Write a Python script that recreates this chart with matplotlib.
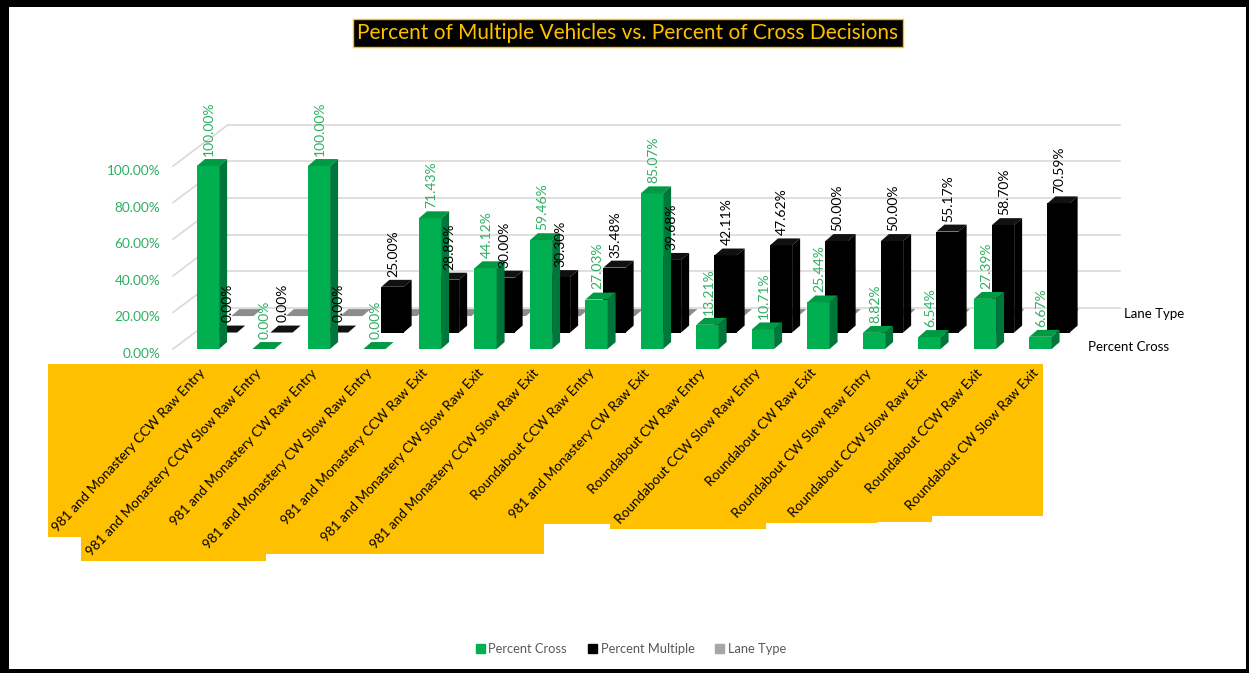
import matplotlib
matplotlib.use('Agg')
import matplotlib.pyplot as plt
from matplotlib.patches import Rectangle, Patch
from matplotlib.transforms import ScaledTranslation

# data
categories = [
    '981 and Monastery CCW Raw Entry',
    '981 and Monastery CCW Slow Raw Entry',
    '981 and Monastery CW Raw Entry',
    '981 and Monastery CW Slow Raw Entry',
    '981 and Monastery CCW Raw Exit',
    '981 and Monastery CW Slow Raw Exit',
    '981 and Monastery CCW Slow Raw Exit',
    'Roundabout CCW Raw Entry',
    '981 and Monastery CW Raw Exit',
    'Roundabout CW Raw Entry',
    'Roundabout CCW Slow Raw Entry',
    'Roundabout CW Raw Exit',
    'Roundabout CW Slow Raw Entry',
    'Roundabout CCW Slow Raw Exit',
    'Roundabout CCW Raw Exit',
    'Roundabout CW Slow Raw Exit',
]
pct_cross = [100.00, 0.00, 100.00, 0.00, 71.43, 44.12, 59.46, 27.03,
             85.07, 13.21, 10.71, 25.44, 8.82, 6.54, 27.39, 6.67]
pct_multiple = [0.00, 0.00, 0.00, 25.00, 28.89, 30.00, 30.30, 35.48,
                39.68, 42.11, 47.62, 50.00, 50.00, 55.17, 58.70, 70.59]
lane_type = [0] * 16
yticks = [0, 20, 40, 60, 80, 100]

GREEN = '#00B050'
GREEN_TOP = '#009A45'
GREEN_SIDE = '#00773A'
GREEN_TXT = '#2EAF62'
GRAY = '#8C8C8C'
GOLD = '#FFC000'

plt.rcParams['font.family'] = ['Lato', 'DejaVu Sans']

W_PX, H_PX = 1249, 673
fig = plt.figure(figsize=(W_PX / 100, H_PX / 100), dpi=100)
fig.patch.set_facecolor('white')

# 1 category = 55.5 px, 1 % = 1.83 px
ax = fig.add_axes([170 / W_PX, (H_PX - 360) / H_PX, 1030 / W_PX, 300 / H_PX])
ax.set_xlim((170 - 208) / 55.5, (1200 - 208) / 55.5)
ax.set_ylim((349 - 360) / 1.83, (349 - 60) / 1.83)
ax.patch.set_visible(False)
for s in ax.spines.values():
    s.set_visible(False)

# 3d look
BW = 0.40            # bar front width
TX, TY = 0.144, 3.8  # bar depth
DX, DY = 0.325, 9.0  # step between series rows
WALL_L, WALL_R, WY = 0.36, 16.43, 22.5  # back wall
x = list(range(len(categories)))
# back row sits a bit squeezed (perspective)
x_back = [0.62 + 0.982 * i for i in x]

# side wall and back wall gridlines
for t in yticks:
    ax.plot([WALL_L - 0.99, WALL_L], [t, t + WY], color='#D9D9D9', lw=1.2,
            zorder=0, clip_on=False)
    ax.plot([WALL_L, WALL_R], [t + WY, t + WY], color='#D9D9D9', lw=1.2,
            zorder=0, clip_on=False)


def draw_bars(xs, vals, base, front, top, side, z):
    ax.bar(xs, vals, bottom=base, width=BW, color=front, zorder=z)
    for xi, v in zip(xs, vals):
        x0 = xi - BW / 2
        t = base + v
        ax.fill([x0, x0 + BW, x0 + BW + TX, x0 + TX],
                [t, t, t + TY, t + TY], color=top, zorder=z, lw=0)
        ax.fill([x0 + BW, x0 + BW, x0 + BW + TX, x0 + BW + TX],
                [base, t, t + TY, base + TY], color=side, zorder=z, lw=0)


draw_bars(x_back, lane_type, 2 * DY, GRAY, GRAY, '#6E6E6E', 1)
draw_bars([i + DX for i in x], pct_multiple, DY, 'black', '#111111', 'black', 2)
draw_bars(x, pct_cross, 0, GREEN, GREEN_TOP, GREEN_SIDE, 3)

# data labels
for i, v in enumerate(pct_cross):
    ax.text(i + 0.02, v + 5.5, f'{v:.2f}%', rotation=90, ha='center',
            va='bottom', color=GREEN_TXT, fontsize=10, zorder=6)
for i, v in enumerate(pct_multiple):
    ax.text(i + DX + 0.02, v + DY + 5.5, f'{v:.2f}%', rotation=90,
            ha='center', va='bottom', color='black', fontsize=10, zorder=6)

# depth axis labels
ax.text(16.5, 2 * DY + 1, 'Lane Type', fontsize=9.5, va='center',
        ha='left', clip_on=False)
ax.text(15.86, 1, 'Percent Cross', fontsize=9.5, va='center', ha='left',
        clip_on=False)

# value axis
ax.set_yticks(yticks)
ax.set_yticklabels([f'{t:.2f}%' for t in yticks], color=GREEN_TXT,
                   fontsize=9.8)
ax.tick_params(axis='y', length=0, pad=7)
off = ScaledTranslation(0, -4 / 100, fig.dpi_scale_trans)
for lbl in ax.get_yticklabels():
    lbl.set_transform(lbl.get_transform() + off)
ax.set_xticks([])

# category labels
cat_texts = []
for i, c in enumerate(categories):
    t = ax.text(i - 0.16, -9.8, c, rotation=47, rotation_mode='anchor',
                ha='right', va='top', fontsize=9.7, color='black',
                clip_on=False, zorder=6)
    cat_texts.append(t)

# title
fig.text(628 / W_PX, 1 - 33 / H_PX,
         'Percent of Multiple Vehicles vs. Percent of Cross Decisions',
         ha='center', va='center', color=GOLD, fontsize=15,
         bbox=dict(boxstyle='square,pad=0.2', facecolor='black',
                   edgecolor=GOLD, linewidth=1))

# legend
handles = [Patch(color=GREEN), Patch(color='black'), Patch(color='#A6A6A6')]
fig.legend(handles, ['Percent Cross', 'Percent Multiple', 'Lane Type'],
           loc='center', bbox_to_anchor=(631 / W_PX, 1 - 649 / H_PX),
           ncol=3, frameon=False, fontsize=9.3, handlelength=0.7,
           handleheight=0.7, handletextpad=0.3, columnspacing=1.6,
           labelcolor='#595959')

# gold boxes behind the category labels
fig.canvas.draw()
inv = fig.transFigure.inverted()
pad = 3
for t in cat_texts:
    bb = t.get_window_extent()
    (fx0, fy0) = inv.transform((bb.x0 - pad, bb.y0 - pad))
    (fx1, fy1) = inv.transform((bb.x1 + pad, bb.y1 + pad))
    fig.add_artist(Rectangle((fx0, fy0), fx1 - fx0, fy1 - fy0,
                             transform=fig.transFigure, facecolor=GOLD,
                             edgecolor='none', zorder=-1))

# black frame
for (bx, by, bw, bh) in [(0, 1 - 7 / H_PX, 1, 7 / H_PX), (0, 0, 9 / W_PX, 1),
                         (1 - 3 / W_PX, 0, 3 / W_PX, 1), (0, 0, 1, 4 / H_PX)]:
    fig.add_artist(Rectangle((bx, by), bw, bh, transform=fig.transFigure,
                             facecolor='black', edgecolor='none', zorder=10))

fig.savefig('out.png', dpi=100)
